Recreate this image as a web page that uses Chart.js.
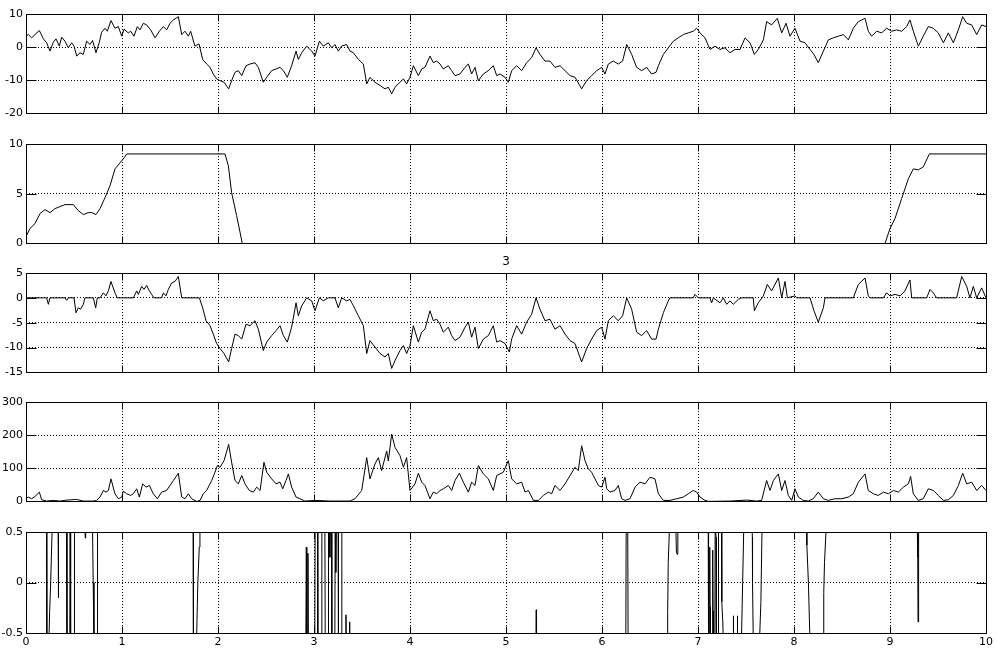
<!DOCTYPE html>
<html>
<head>
<meta charset="utf-8">
<script src="https://cdn.jsdelivr.net/npm/chart.js@4.4.0/dist/chart.umd.min.js"></script>
<style>
  html, body { margin: 0; padding: 0; background: #fff; }
  body { width: 998px; height: 654px; position: relative; overflow: hidden; }
  canvas { position: absolute; left: 0; }
</style>
</head>
<body>
<canvas id="p1" width="998" height="121" style="top:2px"></canvas>
<canvas id="p2" width="998" height="121" style="top:132px"></canvas>
<canvas id="p3" width="998" height="139" style="top:243px"></canvas>
<canvas id="p4" width="998" height="121" style="top:390px"></canvas>
<canvas id="p5" width="998" height="133" style="top:520px"></canvas>
<script>
// panel 1
const t1 = [0,0.024,0.059,0.094,0.139,0.181,0.215,0.25,0.285,0.313,0.347,0.372,0.406,0.441,0.476,0.5,0.528,0.563,0.597,0.632,0.667,0.694,0.729,0.764,0.788,0.823,0.847,0.885,0.927,0.962,0.997,1.021,1.066,1.09,1.125,1.16,1.188,1.222,1.257,1.299,1.344,1.389,1.431,1.465,1.5,1.535,1.587,1.622,1.656,1.691,1.715,1.76,1.802,1.84,1.882,1.917,1.951,1.986,2.021,2.063,2.111,2.142,2.177,2.212,2.247,2.292,2.333,2.385,2.42,2.472,2.507,2.559,2.604,2.646,2.681,2.722,2.767,2.813,2.837,2.872,2.924,2.976,3.01,3.056,3.097,3.149,3.184,3.219,3.253,3.288,3.34,3.375,3.41,3.462,3.514,3.549,3.583,3.635,3.688,3.74,3.774,3.809,3.844,3.896,3.931,3.965,4.0,4.035,4.087,4.122,4.156,4.208,4.243,4.278,4.313,4.347,4.399,4.434,4.469,4.521,4.573,4.608,4.642,4.677,4.712,4.764,4.816,4.868,4.903,4.938,4.99,5.024,5.059,5.111,5.163,5.215,5.267,5.313,5.354,5.406,5.458,5.51,5.563,5.615,5.667,5.719,5.788,5.84,5.892,5.944,5.997,6.031,6.066,6.118,6.17,6.215,6.257,6.309,6.361,6.413,6.465,6.517,6.563,6.587,6.639,6.691,6.743,6.795,6.847,6.899,6.951,6.986,7.021,7.073,7.125,7.177,7.229,7.281,7.333,7.385,7.438,7.49,7.542,7.587,7.628,7.681,7.715,7.767,7.826,7.872,7.917,7.958,8.01,8.063,8.115,8.167,8.208,8.253,8.306,8.358,8.41,8.462,8.514,8.566,8.618,8.67,8.74,8.774,8.809,8.861,8.913,8.965,9.017,9.069,9.121,9.174,9.208,9.243,9.295,9.347,9.399,9.451,9.503,9.556,9.608,9.66,9.712,9.757,9.799,9.851,9.903,9.955,10];
const v1 = [3.3,3.8,2.8,3.8,5.0,2.5,1.3,-1.2,1.5,2.5,0.3,3.0,1.8,-0.2,1.3,0.3,-2.7,-1.7,-2.2,1.8,0.8,2.0,-1.7,1.5,4.5,5.7,4.8,8.0,5.7,6.2,3.3,5.4,4.3,4.8,3.3,6.2,5.2,7.2,6.7,5.2,2.8,4.8,6.2,5.2,7.2,8.2,9.2,3.8,4.8,3.3,4.8,0.3,1.0,-3.7,-5.1,-6.1,-8.1,-9.6,-10.1,-10.6,-12.6,-10.1,-7.6,-7.1,-8.6,-5.6,-5.1,-4.7,-6.1,-10.6,-9.1,-7.1,-6.6,-6.1,-7.1,-9.1,-5.6,-1.2,-3.7,-1.7,0.3,-1.2,-2.7,1.8,0.3,1.3,-0.2,0.8,-1.2,0.3,0.8,-1.2,-1.7,-3.7,-5.1,-11.1,-9.1,-10.6,-11.6,-12.6,-12.1,-14.1,-12.1,-10.6,-9.6,-11.1,-9.1,-5.6,-8.6,-6.6,-6.1,-2.7,-4.7,-4.2,-5.1,-6.6,-5.6,-7.1,-8.6,-8.1,-6.1,-5.1,-8.1,-6.1,-10.1,-8.1,-7.1,-5.6,-8.6,-8.1,-9.1,-10.6,-7.1,-5.6,-7.1,-4.7,-3.2,-0.2,-2.2,-4.2,-4.2,-6.1,-5.6,-7.1,-8.6,-9.1,-12.6,-10.1,-8.6,-7.1,-6.1,-8.1,-5.1,-4.2,-5.1,-4.2,0.8,-2.2,-6.1,-7.1,-6.1,-8.1,-7.6,-5.6,-2.2,-0.2,1.8,2.8,3.8,4.3,4.8,5.7,4.3,2.8,-0.7,0.3,-0.7,-0.2,-1.7,-0.7,-0.7,2.8,1.3,-2.2,-0.7,2.2,7.7,6.7,8.7,4.3,7.2,3.3,5.7,1.8,1.3,-0.7,-2.2,-4.7,-1.2,2.2,2.8,3.3,3.8,2.2,5.7,7.7,8.7,4.8,3.3,4.8,4.3,5.7,4.8,5.2,4.8,6.2,8.2,4.8,0.3,3.3,6.2,5.7,4.3,1.3,4.3,1.3,5.2,9.2,7.2,6.7,3.8,6.7,6.2];

// panel 2 (null = no value drawn)
const t2 = [0,0.042,0.094,0.146,0.198,0.25,0.302,0.354,0.406,0.458,0.493,0.545,0.597,0.649,0.684,0.729,0.771,0.823,0.875,0.927,0.979,1.021,1.049,2.073,2.108,2.142,2.194,2.253,2.26,8.94,8.948,9.0,9.052,9.121,9.191,9.243,9.295,9.347,9.41,10];
const v2 = [0.7,1.5,2.0,3.0,3.4,3.1,3.5,3.7,3.9,3.9,3.9,3.3,2.9,3.1,3.1,2.9,3.5,4.6,5.8,7.5,8.1,8.6,9.0,9.0,7.8,5.1,2.8,0,null,null,0,1.5,2.5,4.5,6.5,7.5,7.4,7.7,9.0,9.0];

// panel 3
const t3 = [0,0.215,0.233,0.25,0.406,0.424,0.441,0.5,0.521,0.545,0.569,0.597,0.615,0.701,0.726,0.743,0.771,0.806,0.833,0.858,0.885,0.927,0.951,1.118,1.153,1.17,1.205,1.229,1.257,1.285,1.319,1.333,1.413,1.431,1.458,1.483,1.517,1.552,1.587,1.622,1.806,1.84,1.875,1.917,1.951,1.986,2.021,2.063,2.111,2.142,2.177,2.212,2.247,2.292,2.333,2.385,2.42,2.472,2.507,2.559,2.604,2.646,2.681,2.722,2.767,2.813,2.837,2.872,2.924,2.976,3.01,3.056,3.097,3.149,3.219,3.253,3.288,3.34,3.375,3.41,3.462,3.514,3.549,3.583,3.635,3.688,3.74,3.774,3.809,3.844,3.896,3.931,3.965,4.0,4.035,4.087,4.122,4.156,4.208,4.243,4.278,4.313,4.347,4.399,4.434,4.469,4.521,4.573,4.608,4.642,4.677,4.712,4.764,4.816,4.868,4.903,4.938,4.99,5.035,5.059,5.111,5.163,5.215,5.267,5.313,5.354,5.406,5.458,5.51,5.563,5.615,5.667,5.719,5.788,5.84,5.892,5.944,5.997,6.031,6.066,6.118,6.17,6.215,6.257,6.309,6.361,6.413,6.465,6.517,6.563,6.587,6.639,6.691,6.708,6.951,6.969,7.003,7.125,7.142,7.16,7.229,7.264,7.299,7.333,7.368,7.42,7.455,7.576,7.587,7.628,7.681,7.722,7.767,7.837,7.872,7.906,7.931,8.01,8.028,8.167,8.208,8.253,8.306,8.323,8.618,8.67,8.74,8.774,8.792,8.931,8.965,9.0,9.052,9.104,9.156,9.208,9.226,9.382,9.417,9.451,9.486,9.694,9.747,9.799,9.833,9.868,9.903,9.955,10];
const v3 = [0,0,-1.3,0,0,-0.5,0,0,-3.0,-2.0,-2.3,-1.3,0,0,-2.0,0,0,1.0,0.4,1.4,3.3,1.0,0,0,1.4,0.7,2.3,1.7,2.5,1.4,0.4,0,0,1.0,0.4,1.7,3.0,3.3,4.3,0,0,-2.0,-4.6,-5.6,-7.3,-9.2,-10.2,-11.2,-12.9,-10.2,-7.3,-7.6,-8.3,-5.3,-5.6,-4.6,-6.3,-10.6,-8.9,-7.6,-6.6,-5.6,-7.6,-8.9,-5.9,-1.0,-3.6,-1.6,0,-0.6,-2.6,0,-0.6,0,0,-2.0,0,-0.6,-0.3,-1.6,-3.6,-5.6,-11.2,-8.6,-9.9,-11.2,-11.9,-11.2,-14.2,-12.6,-10.6,-9.6,-11.2,-9.6,-5.6,-8.9,-6.9,-6.3,-2.6,-4.6,-4.3,-5.3,-6.9,-5.9,-7.6,-8.6,-7.9,-5.9,-4.9,-7.9,-5.9,-10.2,-8.3,-7.6,-5.6,-8.9,-8.6,-9.2,-10.9,-8.3,-5.6,-7.3,-4.9,-3.3,0,-2.3,-4.6,-4.3,-6.3,-5.6,-7.3,-8.6,-9.2,-12.9,-10.2,-8.3,-6.6,-5.9,-8.3,-4.6,-3.6,-4.6,-3.6,0,-2.3,-6.9,-7.6,-6.6,-8.3,-8.3,-6.3,-3.0,-0.6,0,0,0.7,0,0,-1.0,0,-1.0,0,-1.3,-0.6,-1.3,-0.3,0,0,-2.6,-1.0,0.4,2.7,1.4,4.0,0,3.3,0,0.4,0,0,-2.6,-4.9,-2.0,0,0,2.7,4.0,0.4,0,0,1.0,0.4,0.7,0.4,1.4,3.6,0,0,1.7,1.0,0,0,4.3,2.3,0,2.3,0,2.0,0];

// panel 4
const t4 = [0,0.024,0.059,0.094,0.139,0.163,0.215,0.285,0.354,0.424,0.528,0.597,0.701,0.736,0.771,0.806,0.833,0.858,0.885,0.927,0.962,0.997,1.014,1.049,1.09,1.118,1.153,1.181,1.215,1.25,1.285,1.326,1.368,1.413,1.465,1.5,1.535,1.587,1.622,1.656,1.691,1.726,1.778,1.813,1.847,1.882,1.934,1.969,1.993,2.021,2.063,2.111,2.142,2.177,2.212,2.247,2.281,2.326,2.368,2.403,2.438,2.479,2.507,2.559,2.604,2.646,2.674,2.708,2.733,2.767,2.813,2.854,2.906,3.01,3.167,3.375,3.427,3.497,3.549,3.583,3.635,3.67,3.705,3.757,3.774,3.809,3.844,3.896,3.931,3.965,4.0,4.052,4.087,4.122,4.156,4.208,4.243,4.278,4.313,4.347,4.399,4.434,4.469,4.514,4.556,4.608,4.642,4.677,4.712,4.764,4.816,4.868,4.903,4.972,5.024,5.059,5.111,5.163,5.198,5.233,5.285,5.337,5.389,5.441,5.476,5.51,5.563,5.615,5.667,5.719,5.753,5.788,5.823,5.858,5.892,5.927,5.962,5.997,6.031,6.049,6.083,6.135,6.17,6.205,6.24,6.292,6.344,6.396,6.448,6.5,6.552,6.587,6.639,6.708,6.778,6.847,6.899,6.951,6.986,7.021,7.073,7.108,7.333,7.507,7.611,7.663,7.715,7.75,7.785,7.837,7.872,7.906,7.941,7.976,8.01,8.045,8.097,8.149,8.201,8.253,8.306,8.358,8.427,8.497,8.566,8.618,8.67,8.74,8.774,8.826,8.878,8.931,8.983,9.035,9.087,9.139,9.191,9.215,9.243,9.295,9.347,9.399,9.451,9.503,9.556,9.608,9.66,9.712,9.757,9.799,9.851,9.903,9.955,10];
const v4 = [8,13,8,15,28,5,1,3,1,4,6,1,1,3,13,33,28,33,68,23,8,13,31,23,18,23,38,13,53,43,48,23,8,28,33,48,63,85,13,8,23,8,0,3,23,33,63,88,108,103,123,172,118,63,53,78,53,33,28,43,33,118,88,68,53,58,38,63,83,43,13,8,1,3,1,1,8,33,132,68,113,132,93,152,122,203,163,138,103,132,33,53,85,58,48,8,28,23,33,38,48,33,63,85,58,28,58,48,108,83,68,33,78,88,123,68,53,58,28,33,3,3,18,28,23,48,33,53,78,103,93,168,123,98,88,68,48,43,73,38,28,33,48,8,3,8,43,58,53,73,68,23,3,3,8,13,23,33,28,13,3,0,1,4,1,3,63,33,63,83,33,63,18,3,38,13,3,1,8,28,8,3,8,8,13,23,58,83,33,23,18,28,23,33,28,43,53,75,23,3,8,38,33,18,3,5,18,48,85,53,58,33,48,33];

// panel 5: values beyond +-0.5 fall outside the axes, null = no value drawn
const t5 = [0,0.213,0.217,0.238,0.246,0.257,0.27,0.275,0.334,0.337,0.34,0.421,0.427,0.456,0.46,0.463,0.467,0.501,0.505,0.612,0.617,0.622,0.692,0.7,0.708,0.741,0.745,1.741,1.743,1.745,1.776,1.79,1.805,1.812,2.3,2.915,2.92,2.925,2.933,2.937,2.941,3.008,3.012,3.036,3.04,3.078,3.082,3.113,3.117,3.147,3.151,3.16,3.165,3.17,3.182,3.186,3.217,3.221,3.226,3.228,3.233,3.251,3.255,3.286,3.29,3.31,3.33,3.333,3.336,3.366,3.37,3.374,5.312,5.315,5.318,6.248,6.252,6.268,6.272,6.68,6.684,6.69,6.705,6.768,6.775,6.782,6.79,7.106,7.11,7.118,7.122,7.126,7.13,7.15,7.153,7.157,7.16,7.175,7.179,7.185,7.188,7.19,7.193,7.21,7.214,7.244,7.248,7.258,7.265,7.365,7.368,7.371,7.407,7.41,7.413,7.452,7.465,7.478,7.562,7.566,7.568,7.576,7.64,7.655,7.668,8.128,8.134,8.15,8.167,8.303,8.31,8.318,8.338,9.283,9.289,9.292,9.295,9.301,10];
const v5 = [0.6,0.6,-0.6,-0.6,-0.3,0,0.45,0.6,0.6,-0.15,0.6,0.6,-0.6,-0.6,0.6,0.6,-0.6,-0.6,0.6,0.6,0.44,0.6,0.6,0,-0.6,-0.6,0.6,0.6,-0.18,-0.6,-0.6,0,0.35,0.6,null,-0.6,0.35,-0.6,-0.6,0.29,-0.6,-0.6,0.6,0.6,-0.6,-0.6,0.6,0.6,-0.6,-0.6,0.6,0.6,0.25,0.6,0.6,-0.6,-0.6,0.6,0.6,0.1,0.6,0.6,-0.6,-0.6,0.6,null,-0.6,-0.32,-0.6,-0.6,-0.39,-0.6,-0.6,-0.27,-0.6,-0.6,0.6,0.6,-0.6,-0.6,-0.3,0.2,0.6,0.6,0.3,0.28,0.6,0.6,-0.6,-0.6,0.35,-0.24,-0.6,-0.6,0.32,-0.28,-0.6,-0.6,0.6,0.6,0.45,-0.42,-0.6,-0.6,0.6,0.6,-0.19,-0.39,-0.6,-0.6,-0.33,-0.6,-0.6,-0.33,-0.6,-0.6,0,0.6,0.6,0.45,0,-0.6,-0.6,-0.2,0.6,0.6,0.37,0,-0.6,-0.6,-0.1,0.2,0.6,0.6,0.25,-0.39,0.25,0.6,0.6];

const yLim = [[-20, 10], [0, 10], [-15, 5], [0, 300], [-0.5, 0.5]];
const yStep = [10, 5, 5, 100, 0.5];

Chart.defaults.font.family = "'DejaVu Sans', 'Liberation Sans', sans-serif";
Chart.defaults.font.size = 11;
Chart.defaults.color = '#000';

// box and inward tick marks, like the matlab axes
const boxPlugin = {
   id: 'box',
   afterDraw(chart) {
      const ctx = chart.ctx;
      const a = chart.chartArea;
      const xs = chart.scales.x, ys = chart.scales.y;
      const L = Math.round(a.left) + 0.5, R = Math.round(a.right) + 0.5;
      const T = Math.round(a.top) + 0.5, B = Math.round(a.bottom) + 0.5;
      ctx.save();
      ctx.strokeStyle = '#000';
      ctx.lineWidth = 1;
      ctx.beginPath();
      xs.ticks.forEach(t => {
         const px = Math.round(xs.getPixelForValue(t.value)) + 0.5;
         ctx.moveTo(px, T); ctx.lineTo(px, T + 7);
         ctx.moveTo(px, B); ctx.lineTo(px, B - 7);
      });
      ys.ticks.forEach(t => {
         const py = Math.round(ys.getPixelForValue(t.value)) + 0.5;
         ctx.moveTo(L, py); ctx.lineTo(L + 10, py);
         ctx.moveTo(R, py); ctx.lineTo(R - 10, py);
      });
      ctx.stroke();
      ctx.strokeRect(L, T, R - L, B - T);
      ctx.restore();
   }
};

function makePanel(id, t, v, n, showX, title) {
   const pts = t.map((x, i) => ({x: x, y: v[i]}));
   new Chart(document.getElementById(id), {
      type: 'line',
      data: { datasets: [{
         data: pts,
         borderColor: '#000',
         borderWidth: 1,
         pointRadius: 0,
         tension: 0,
         spanGaps: false
      }]},
      options: {
         responsive: false,
         animation: false,
         events: [],
         layout: { padding: { left: 0, right: 12, top: 12, bottom: 0 } },
         plugins: {
            legend: { display: false },
            tooltip: { enabled: false },
            title: {
               display: !!title,
               text: title || '',
               fullSize: false,
               color: '#000',
               font: { size: 12, weight: 'normal', lineHeight: '13px' },
               padding: { top: 0, bottom: 5 }
            }
         },
         scales: {
            x: {
               type: 'linear',
               min: 0, max: 10,
               ticks: { display: showX, stepSize: 1, padding: 3, color: '#000' },
               grid: { color: '#000', lineWidth: 1, drawTicks: false },
               border: { display: false, dash: [1, 2] },
               afterFit: s => { s.height = showX ? 20 : 8; }
            },
            y: {
               min: yLim[n][0], max: yLim[n][1],
               ticks: { stepSize: yStep[n], padding: 3, color: '#000' },
               grid: { color: '#000', lineWidth: 1, drawTicks: false },
               border: { display: false, dash: [1, 2] },
               afterFit: s => { s.width = 26; }
            }
         }
      },
      plugins: [boxPlugin]
   });
}

makePanel('p1', t1, v1, 0, false);
makePanel('p2', t2, v2, 1, false);
makePanel('p3', t3, v3, 2, false, '3');
makePanel('p4', t4, v4, 3, false);
makePanel('p5', t5, v5, 4, true);
</script>
</body>
</html>
